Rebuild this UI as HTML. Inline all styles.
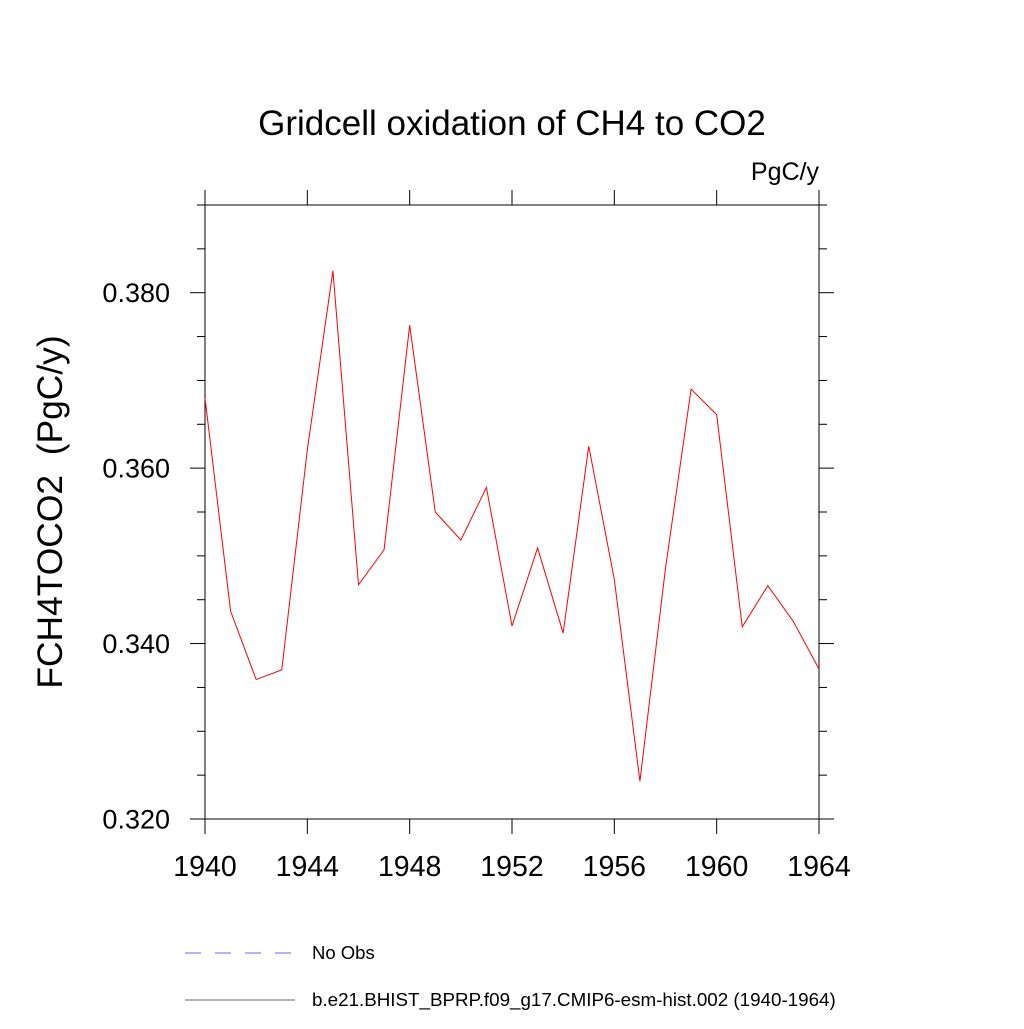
<!DOCTYPE html>
<html><head><meta charset="utf-8"><style>
body{margin:0;background:#fff;}
svg text{font-family:"Liberation Sans",sans-serif;fill:#000;}
</style></head><body>
<svg id="chart" width="1024" height="1024" xmlns="http://www.w3.org/2000/svg">
<text x="512" y="135" text-anchor="middle" font-size="35">Gridcell oxidation of CH4 to CO2</text>
<text x="819" y="180" text-anchor="end" font-size="25">PgC/y</text>
<text transform="translate(62,512) rotate(-90)" text-anchor="middle" font-size="35.4" xml:space="preserve">FCH4TOCO2  (PgC/y)</text>
<rect x="205" y="205" width="614" height="614" fill="none" stroke="#000" stroke-width="1"/>
<g id="axes"></g>
<polyline id="series" fill="none" stroke="#ff0000" stroke-width="1"/>
<g>
<line x1="185" y1="953" x2="295" y2="953" stroke="#6666ff" stroke-dasharray="16,14"/>
<text x="312" y="959" font-size="18.5">No Obs</text>
<line x1="185" y1="1000" x2="295" y2="1000" stroke="#666" stroke-width="1"/>
<text x="312" y="1006" font-size="18.8">b.e21.BHIST_BPRP.f09_g17.CMIP6-esm-hist.002 (1940-1964)</text>
</g>
</svg>
<script>
const years=[1940,1941,1942,1943,1944,1945,1946,1947,1948,1949,1950,1951,1952,1953,1954,1955,1956,1957,1958,1959,1960,1961,1962,1963,1964];
const values=[0.368,0.3437,0.3359,0.3370,0.3621,0.3825,0.3467,0.3507,0.3763,0.3550,0.3518,0.3578,0.3420,0.3509,0.3412,0.3625,0.3473,0.3243,0.3486,0.3690,0.3661,0.3419,0.3466,0.3425,0.3371];
const yTicks=[0.320,0.340,0.360,0.380];
const xTicks=[1940,1944,1948,1952,1956,1960,1964];
const X0=205,X1=819,Y0=819,Y1=205,xmin=1940,xmax=1964,ymin=0.320,ymax=0.390;
const sx=v=>X0+(v-xmin)/(xmax-xmin)*(X1-X0);
const sy=v=>Y0-(v-ymin)/(ymax-ymin)*(Y0-Y1);
const NS="http://www.w3.org/2000/svg";
const g=document.getElementById('axes');
function ln(x1,y1,x2,y2,name){const l=document.createElementNS(NS,'line');
l.setAttribute('x1',x1);l.setAttribute('y1',y1);l.setAttribute('x2',x2);l.setAttribute('y2',y2);
l.setAttribute('stroke','#000');


g.appendChild(l);}
function tx(x,y,s,anchor,size,name){const t=document.createElementNS(NS,'text');
t.setAttribute('x',x);t.setAttribute('y',y);t.setAttribute('text-anchor',anchor);t.setAttribute('font-size',size);t.textContent=s;


g.appendChild(t);}
for(let v=ymin;v<=ymax+1e-9;v+=0.005){const y=sy(v);const maj=yTicks.some(t=>Math.abs(t-v)<1e-6);const L=maj?15:8;
ln(X0-L,y,X0,y,'y-tick');ln(X1,y,X1+L,y,'y-tick-right');}
yTicks.forEach(v=>tx(170,sy(v)+9.5,v.toFixed(3),'end','27','y-tick-label'));
xTicks.forEach(v=>{const x=sx(v);ln(x,Y0,x,Y0+15,'x-tick');ln(x,Y1-15,x,Y1,'x-tick-top');});
xTicks.forEach(v=>tx(sx(v),876,String(v),'middle','28.5','x-tick-label'));
document.getElementById('series').setAttribute('points',years.map((y,i)=>sx(y)+','+sy(values[i])).join(' '));
</script>
</body></html>
